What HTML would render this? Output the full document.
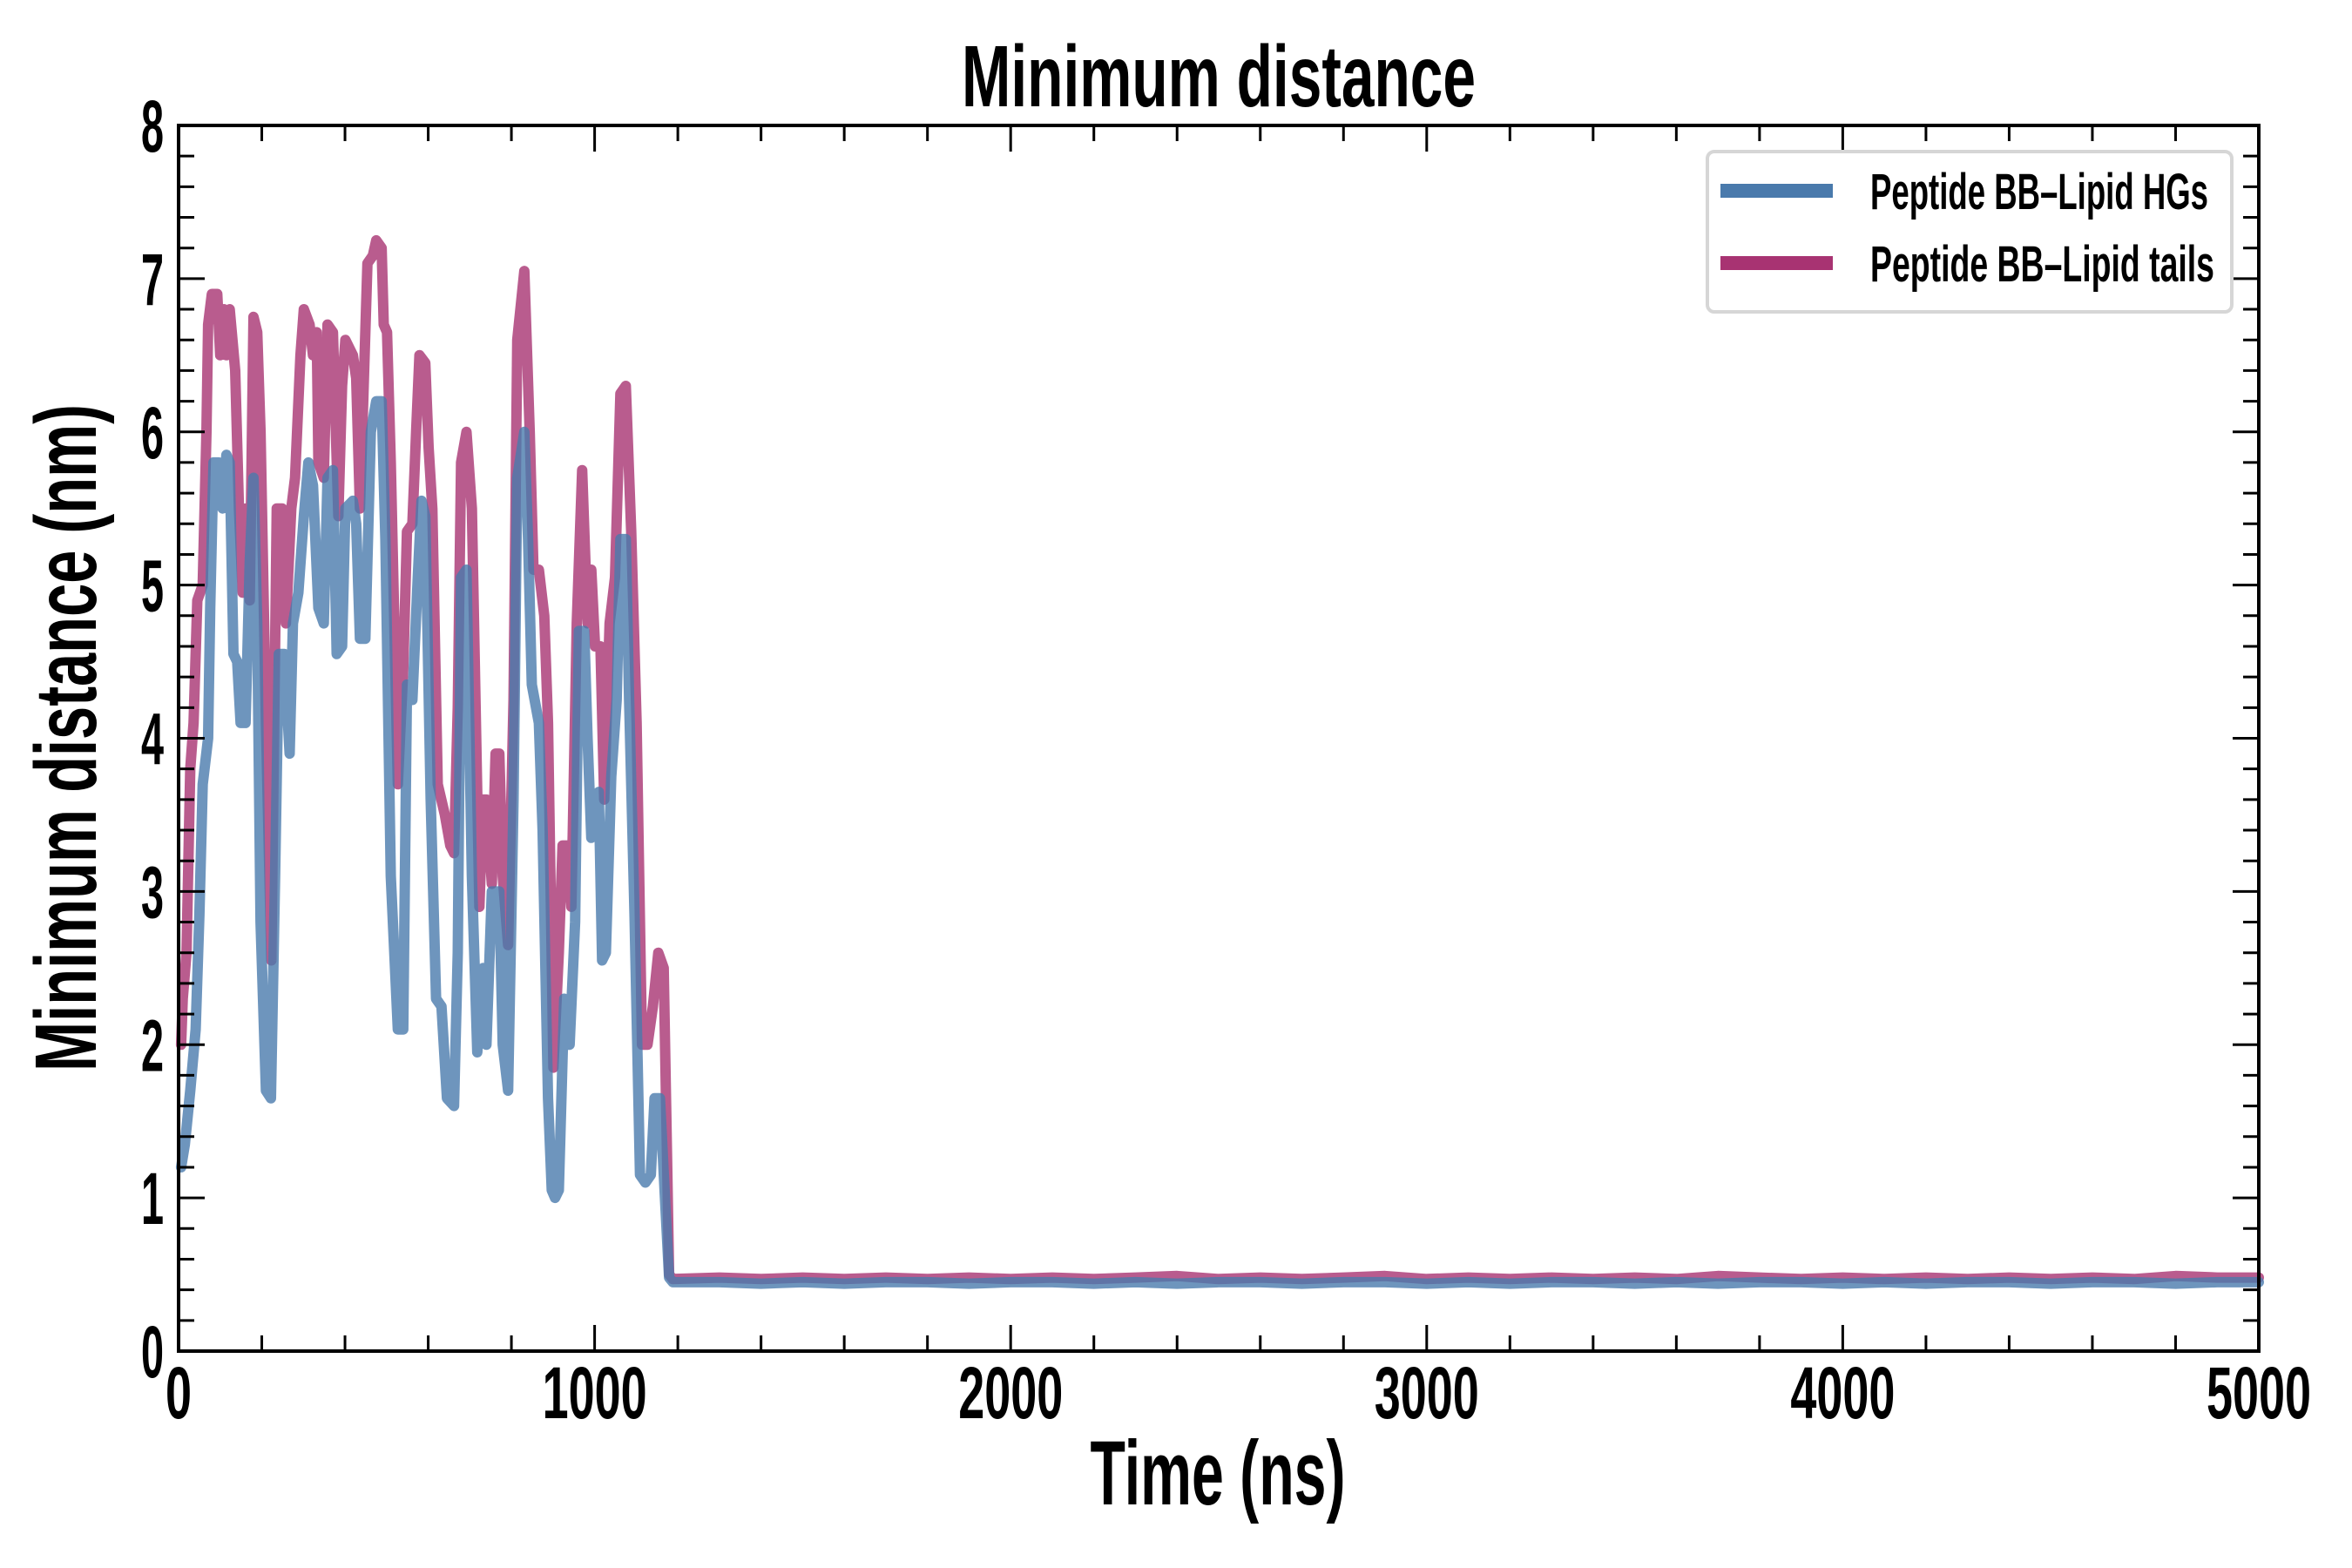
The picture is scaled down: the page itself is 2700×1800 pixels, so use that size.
<!DOCTYPE html>
<html><head><meta charset="utf-8"><style>
html,body{margin:0;padding:0;background:#fff;}
svg{display:block;}
text{font-family:"Liberation Sans",sans-serif;font-weight:bold;fill:#000;}
</style></head><body>
<svg id="chart" width="2700" height="1800" viewBox="0 0 2700 1800" xmlns="http://www.w3.org/2000/svg">
<g id="grid"></g>
<g id="series"></g>
<g id="axes"></g>
<text x="1399" y="122" font-size="100" text-anchor="middle" textLength="590" lengthAdjust="spacingAndGlyphs">Minimum distance</text>
<text x="1398" y="1727" font-size="105" text-anchor="middle" textLength="293" lengthAdjust="spacingAndGlyphs">Time (ns)</text>
<text transform="translate(110,847) rotate(-90)" x="0" y="0" font-size="100" text-anchor="middle" textLength="766" lengthAdjust="spacingAndGlyphs">Minimum distance (nm)</text>
<g>
<rect x="1960" y="174" width="602" height="184" rx="8" fill="#fff" stroke="#d6d6d6" stroke-width="4"/>
<line x1="1975" y1="219" x2="2104" y2="219" stroke="#4a7aac" stroke-width="16"/>
<text x="2147" y="240" font-size="58" textLength="388" lengthAdjust="spacingAndGlyphs">Peptide BB–Lipid HGs</text>
<line x1="1975" y1="302" x2="2104" y2="302" stroke="#a83372" stroke-width="16"/>
<text x="2147" y="323" font-size="58" textLength="395" lengthAdjust="spacingAndGlyphs">Peptide BB–Lipid tails</text>
</g>
</svg>
<script>
const xTicks=[0,1000,2000,3000,4000,5000];
const yTicks=[0,1,2,3,4,5,6,7,8];
const tailsT=[6,10,19,28,36,45,58,67,71,80,93,100,109,115,123,136,145,154,162,171,180,189,197,210,223,236,249,258,271,280,293,301,315,323,332,336,349,358,371,384,393,401,419,427,436,445,454,467,475,488,493,501,510,527,540,549,562,571,579,593,601,610,623,640,653,662,671,679,692,705,723,732,740,753,762,771,779,792,805,814,831,844,853,866,879,888,901,914,923,936,944,957,970,983,992,1001,1014,1023,1036,1049,1062,1075,1088,1101,1114,1127,1140,1153,1166,1179,1188,1300,1400,1500,1600,1700,1800,1900,2000,2100,2200,2300,2400,2500,2600,2700,2800,2900,3000,3100,3200,3300,3400,3500,3600,3700,3800,3900,4000,4100,4200,4300,4400,4500,4600,4700,4800,4900,5000];
const tailsV=[2.0,2.3,2.6,3.8,4.1,4.9,5.0,6.0,6.7,6.9,6.9,6.5,6.8,6.5,6.8,6.4,5.5,4.95,5.5,4.9,6.75,6.65,6.0,4.1,2.55,5.5,5.5,4.75,5.5,5.7,6.5,6.8,6.7,6.5,6.65,5.8,5.7,6.7,6.65,5.45,6.3,6.6,6.5,6.35,5.5,6.3,7.1,7.15,7.25,7.2,6.7,6.65,5.8,3.7,4.45,5.35,5.4,6.0,6.5,6.45,5.9,5.5,3.7,3.5,3.3,3.25,4.2,5.8,6.0,5.5,2.9,3.6,3.6,3.05,3.9,3.9,3.1,2.65,4.25,6.6,7.05,6.0,5.1,5.1,4.8,4.1,1.85,2.6,3.3,3.3,2.9,4.75,5.75,4.75,5.1,4.6,4.6,3.6,4.75,5.05,6.25,6.3,5.35,4.1,2.0,2.0,2.25,2.6,2.5,0.5,0.47,0.48,0.47,0.48,0.47,0.48,0.47,0.48,0.47,0.48,0.47,0.48,0.49,0.47,0.48,0.47,0.48,0.49,0.47,0.48,0.47,0.48,0.47,0.48,0.47,0.49,0.48,0.47,0.48,0.47,0.48,0.47,0.48,0.47,0.48,0.47,0.49,0.48,0.48,0.49];
const hgsT=[6,15,28,41,50,58,71,76,84,97,106,115,123,132,141,149,161,171,180,189,197,210,222,232,241,254,267,275,288,301,312,323,336,349,358,371,380,393,401,419,427,436,449,462,475,488,497,510,527,540,549,562,575,584,593,606,619,632,645,662,671,679,692,705,718,732,740,753,771,779,792,805,814,831,840,849,866,875,888,897,905,914,927,940,953,962,975,983,992,1010,1018,1027,1040,1053,1062,1075,1083,1096,1109,1122,1135,1144,1157,1170,1179,1188,1300,1400,1500,1600,1700,1800,1900,2000,2100,2200,2300,2400,2500,2600,2700,2800,2900,3000,3100,3200,3300,3400,3500,3600,3700,3800,3900,4000,4100,4200,4300,4400,4500,4600,4700,4800,4900,5000];
const hgsV=[1.2,1.35,1.7,2.1,2.85,3.7,4.0,4.85,5.8,5.8,5.5,5.85,5.8,4.55,4.5,4.1,4.1,5.15,5.7,4.75,2.8,1.7,1.65,3.1,4.55,4.55,3.9,4.75,4.95,5.45,5.8,5.65,4.85,4.75,5.7,5.75,4.55,4.6,5.5,5.55,5.4,4.65,4.65,6.0,6.2,6.2,5.3,3.1,2.1,2.1,4.35,4.25,5.05,5.55,5.45,3.6,2.3,2.25,1.65,1.6,2.6,5.05,5.1,3.1,1.95,2.5,2.0,3.0,3.0,2.0,1.7,3.6,5.7,6.0,5.3,4.35,4.1,3.4,1.65,1.05,1.0,1.05,2.3,2.0,2.8,4.7,4.7,4.0,3.35,3.65,2.55,2.6,3.75,4.25,5.3,5.3,4.25,2.85,1.15,1.1,1.15,1.65,1.65,0.95,0.48,0.45,0.45,0.44,0.45,0.44,0.45,0.45,0.44,0.45,0.45,0.44,0.45,0.44,0.45,0.45,0.44,0.45,0.45,0.44,0.45,0.44,0.45,0.45,0.44,0.45,0.44,0.45,0.45,0.44,0.45,0.44,0.45,0.45,0.44,0.45,0.45,0.44,0.45,0.45,0.44,0.44];

const L=205,R=2593,T=144,B=1551;
const xMax=5000,yMax=8;
function sx(t){return L+(t/xMax)*(R-L);}
function sy(v){return B-(v/yMax)*(B-T);}
const NS='http://www.w3.org/2000/svg';
function mk(tag,attrs,parent){const e=document.createElementNS(NS,tag);for(const k in attrs)e.setAttribute(k,attrs[k]);parent.appendChild(e);return e;}

const series=document.getElementById('series');
function drawLine(ts,vs,color,name){
  let d='';
  for(let i=0;i<ts.length;i++){d+=(i?'L':'M')+sx(ts[i]).toFixed(1)+','+sy(vs[i]).toFixed(1);}
  const p=mk('path',{d:d,fill:'none',stroke:color,'stroke-width':12,'stroke-opacity':0.8,'stroke-linejoin':'round','stroke-linecap':'round'},series);
  
  
}
drawLine(tailsT,tailsV,'#a83372','series-lipid-tails');
drawLine(hgsT,hgsV,'#4a7aac','series-lipid-hgs');

const axes=document.getElementById('axes');
const frame=mk('rect',{x:L,y:T,width:R-L,height:B-T,fill:'none',stroke:'#000','stroke-width':4},axes);


for(let t=0;t<=xMax;t+=200){
  const major=(t%1000===0);const len=major?30:18;const x=sx(t);
  const a=mk('line',{x1:x,y1:B,x2:x,y2:B-len,stroke:'#000','stroke-width':3},axes);
  
  
  const b=mk('line',{x1:x,y1:T,x2:x,y2:T+len,stroke:'#000','stroke-width':3},axes);
  
  
}
for(let i=0;i<=40;i++){
  const v=i*0.2;const major=(i%5===0);const len=major?30:18;const y=sy(v);
  const a=mk('line',{x1:L,y1:y,x2:L+len,y2:y,stroke:'#000','stroke-width':3},axes);
  
  
  const b=mk('line',{x1:R,y1:y,x2:R-len,y2:y,stroke:'#000','stroke-width':3},axes);
  
  
}
xTicks.forEach(t=>{
  const s=String(t);
  const tx=mk('text',{x:sx(t),y:1628,'font-size':84,'text-anchor':'middle',textLength:s.length*30,lengthAdjust:'spacingAndGlyphs'},axes);
  tx.textContent=s;
  
  
});
yTicks.forEach(v=>{
  const s=String(v);
  const tx=mk('text',{x:188,y:sy(v)+30,'font-size':84,'text-anchor':'end',textLength:s.length*26,lengthAdjust:'spacingAndGlyphs'},axes);
  tx.textContent=s;
  
  
});
</script>
</body></html>
